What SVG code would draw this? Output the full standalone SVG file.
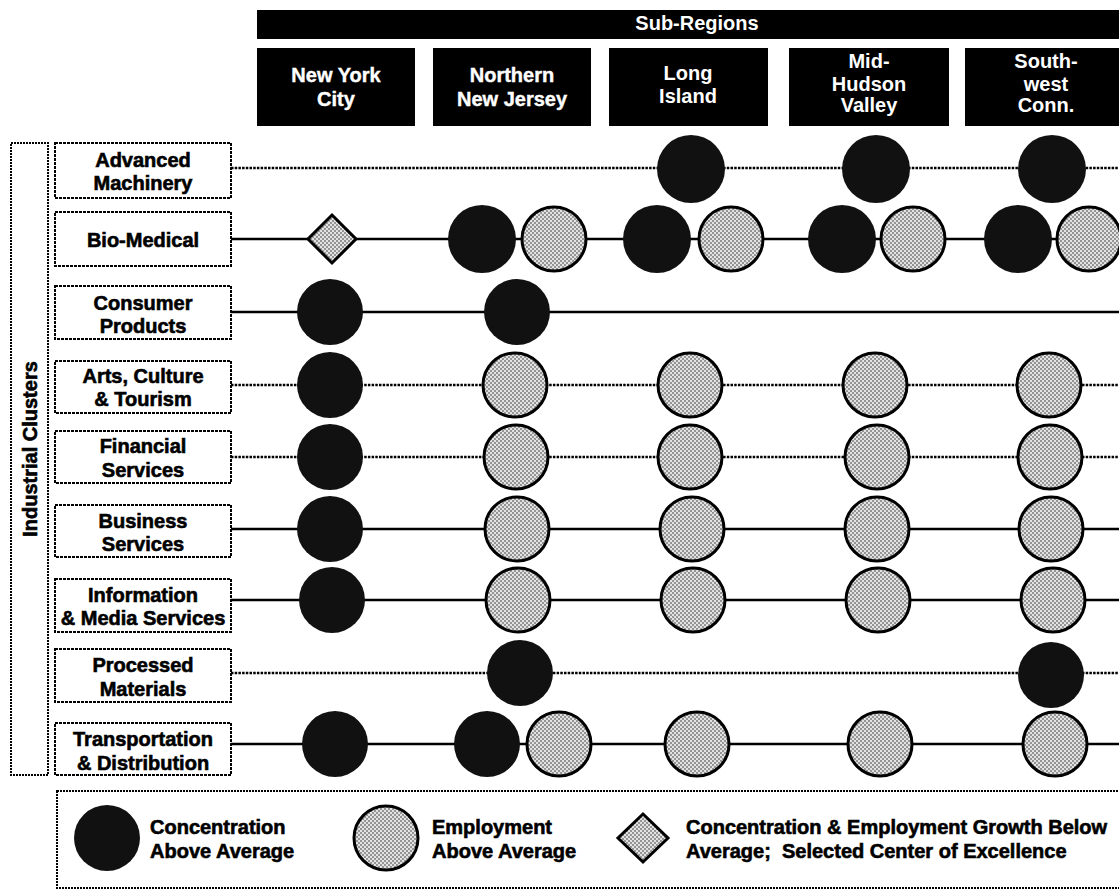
<svg xmlns="http://www.w3.org/2000/svg" width="1119" height="891" viewBox="0 0 1119 891">
<defs>
<pattern id="dots" width="4" height="4" patternUnits="userSpaceOnUse">
<rect width="4" height="4" fill="#e2e2e2"/>
<circle cx="1" cy="1" r="0.75" fill="#222"/>
<circle cx="3" cy="3" r="0.75" fill="#222"/>
</pattern>
<style>
text{font-family:"Liberation Sans",Arial,sans-serif;font-weight:bold;font-size:20px;fill:#000;stroke:#000;stroke-width:0.6}
.hd text{fill:#fff;stroke:#fff;stroke-width:0.4;text-anchor:middle}
.lbl text{text-anchor:middle}
.hbox{fill:#000}
.lbox{fill:#fff;stroke:#000;stroke-width:2;stroke-dasharray:3 1}
.blk{fill:#111}
.gry{fill:url(#dots);stroke:#000;stroke-width:3}
.solid{stroke:#000;stroke-width:2.6;fill:none}
.dot{stroke:#000;stroke-width:2.6;fill:none;stroke-dasharray:2.5 1.2}
</style>
</defs>
<rect width="1119" height="891" fill="#fff"/>

<g id="header" class="hd">
<rect class="hbox" x="257" y="10" width="868" height="29"/>
<text x="697" y="30" style="stroke-width:0">Sub-Regions</text>
</g>
<g id="col-nyc" class="hd">
<rect class="hbox" x="257" y="48" width="158" height="78"/>
<text x="336" y="82">New York</text><text x="336" y="106">City</text>
</g>
<g id="col-nnj" class="hd">
<rect class="hbox" x="433" y="48" width="158" height="78"/>
<text x="512" y="82">Northern</text><text x="512" y="106">New Jersey</text>
</g>
<g id="col-li" class="hd">
<rect class="hbox" x="609" y="48" width="159" height="78"/>
<text x="688" y="80" style="stroke-width:0">Long</text><text x="688" y="103" style="stroke-width:0">Island</text>
</g>
<g id="col-mh" class="hd">
<rect class="hbox" x="789" y="48" width="160" height="78"/>
<text x="869" y="68" style="stroke-width:0">Mid-</text><text x="869" y="91" style="stroke-width:0">Hudson</text><text x="869" y="112" style="stroke-width:0">Valley</text>
</g>
<g id="col-sw" class="hd">
<rect class="hbox" x="965" y="48" width="160" height="78"/>
<text x="1046" y="68" style="stroke-width:0">South-</text><text x="1046" y="91" style="stroke-width:0">west</text><text x="1046" y="112" style="stroke-width:0">Conn.</text>
</g>

<g id="clusters-frame">
<rect x="11" y="143" width="37" height="632" fill="none" stroke="#000" stroke-width="2" stroke-dasharray="2 1"/>
<text transform="translate(37,449) rotate(-90)" text-anchor="middle" font-size="19">Industrial Clusters</text>
</g>

<g id="connectors">
<line class="dot" x1="231" y1="168" x2="1119" y2="168"/>
<line class="solid" x1="231" y1="239" x2="1119" y2="239"/>
<line class="solid" x1="231" y1="312" x2="1119" y2="312"/>
<line class="dot" x1="231" y1="385" x2="1119" y2="385"/>
<line class="dot" x1="231" y1="457" x2="1119" y2="457"/>
<line class="solid" x1="231" y1="529" x2="1119" y2="529"/>
<line class="solid" x1="231" y1="600" x2="1119" y2="600"/>
<line class="dot" x1="231" y1="673" x2="1119" y2="673"/>
<line class="solid" x1="231" y1="744" x2="1119" y2="744"/>
</g>

<g id="row-advanced" class="lbl"><rect class="lbox" x="55" y="143" width="176" height="55"/><text x="143" y="167">Advanced</text><text x="143" y="190">Machinery</text></g>
<g id="row-biomedical" class="lbl"><rect class="lbox" x="55" y="212" width="176" height="54"/><text x="143" y="247">Bio-Medical</text></g>
<g id="row-consumer" class="lbl"><rect class="lbox" x="55" y="286" width="176" height="53"/><text x="143" y="310">Consumer</text><text x="143" y="333">Products</text></g>
<g id="row-arts" class="lbl"><rect class="lbox" x="55" y="361" width="176" height="52"/><text x="143" y="383">Arts, Culture</text><text x="143" y="406">&amp; Tourism</text></g>
<g id="row-financial" class="lbl"><rect class="lbox" x="55" y="431" width="176" height="52"/><text x="143" y="453">Financial</text><text x="143" y="477">Services</text></g>
<g id="row-business" class="lbl"><rect class="lbox" x="55" y="505" width="176" height="52"/><text x="143" y="528">Business</text><text x="143" y="551">Services</text></g>
<g id="row-information" class="lbl"><rect class="lbox" x="55" y="579" width="176" height="53"/><text x="143" y="602">Information</text><text x="143" y="625">&amp; Media Services</text></g>
<g id="row-processed" class="lbl"><rect class="lbox" x="55" y="649" width="176" height="53"/><text x="143" y="672">Processed</text><text x="143" y="696">Materials</text></g>
<g id="row-transport" class="lbl"><rect class="lbox" x="55" y="723" width="176" height="52"/><text x="143" y="746">Transportation</text><text x="143" y="770">&amp; Distribution</text></g>

<g id="marks-advanced">
<circle class="blk" cx="691" cy="169" r="34"/><circle class="blk" cx="876" cy="169" r="34"/><circle class="blk" cx="1052" cy="169" r="34"/>
</g>
<g id="marks-biomedical">
<polygon class="gry" points="332,215 356,239 332,263 308,239"/>
<circle class="blk" cx="482" cy="239" r="34"/><circle class="gry" cx="554" cy="239" r="32"/>
<circle class="blk" cx="657" cy="239" r="34"/><circle class="gry" cx="731" cy="239" r="32"/>
<circle class="blk" cx="842" cy="239" r="34"/><circle class="gry" cx="913" cy="239" r="32"/>
<circle class="blk" cx="1018" cy="239" r="34"/><circle class="gry" cx="1089" cy="239" r="32"/>
</g>
<g id="marks-consumer">
<circle class="blk" cx="330" cy="312" r="33"/><circle class="blk" cx="517" cy="312" r="33"/>
</g>
<g id="marks-arts">
<circle class="blk" cx="330" cy="385" r="33"/><circle class="gry" cx="515" cy="385" r="32"/><circle class="gry" cx="690" cy="385" r="32"/><circle class="gry" cx="875" cy="385" r="32"/><circle class="gry" cx="1049" cy="385" r="32"/>
</g>
<g id="marks-financial">
<circle class="blk" cx="330" cy="457" r="33"/><circle class="gry" cx="516" cy="457" r="32"/><circle class="gry" cx="690" cy="457" r="32"/><circle class="gry" cx="877" cy="457" r="32"/><circle class="gry" cx="1050" cy="457" r="32"/>
</g>
<g id="marks-business">
<circle class="blk" cx="330" cy="529" r="33"/><circle class="gry" cx="517" cy="529" r="32"/><circle class="gry" cx="692" cy="529" r="32"/><circle class="gry" cx="877" cy="529" r="32"/><circle class="gry" cx="1051" cy="529" r="32"/>
</g>
<g id="marks-information">
<circle class="blk" cx="332" cy="600" r="33"/><circle class="gry" cx="518" cy="600" r="32"/><circle class="gry" cx="693" cy="600" r="32"/><circle class="gry" cx="878" cy="600" r="32"/><circle class="gry" cx="1053" cy="600" r="32"/>
</g>
<g id="marks-processed">
<circle class="blk" cx="520" cy="673" r="33"/><circle class="blk" cx="1051" cy="675" r="33"/>
</g>
<g id="marks-transport">
<circle class="blk" cx="335" cy="744" r="33"/><circle class="blk" cx="487" cy="744" r="33"/><circle class="gry" cx="559" cy="744" r="32"/><circle class="gry" cx="697" cy="744" r="32"/><circle class="gry" cx="880" cy="744" r="32"/><circle class="gry" cx="1055" cy="744" r="32"/>
</g>

<g id="legend">
<rect x="57" y="791" width="1068" height="97" fill="none" stroke="#000" stroke-width="2" stroke-dasharray="2 1"/>
<circle class="blk" cx="107" cy="838" r="33"/>
<text x="150" y="834">Concentration</text><text x="150" y="858">Above Average</text>
<circle class="gry" cx="386" cy="838" r="32"/>
<text x="432" y="834">Employment</text><text x="432" y="858">Above Average</text>
<polygon class="gry" points="643,814 668,838 643,862 618,838"/>
<text x="686" y="834">Concentration &amp; Employment Growth Below</text>
<text x="686" y="858" style="white-space:pre">Average;  Selected Center of Excellence</text>
</g>
</svg>
